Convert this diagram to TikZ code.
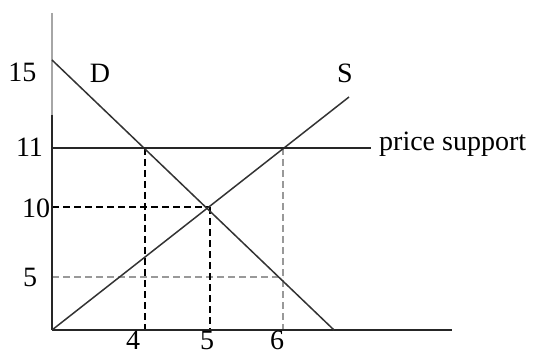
\documentclass[tikz,border=0pt]{standalone}
\usepackage{fontspec}
\setmainfont{Liberation Serif}
\begin{document}
\begin{tikzpicture}[x=1pt,y=-1pt,
  lbl/.style={inner sep=0pt,font=\fontsize{28}{30}\selectfont},
  axis/.style={line width=1.6pt,black!85},
  curve/.style={line width=1.5pt,black!80},
  dashk/.style={line width=1.4pt,black,dash pattern=on 7pt off 4pt},
  dashg/.style={line width=1.4pt,black!40,dash pattern=on 7pt off 4pt}]
\useasboundingbox (0,0) rectangle (534,352);
% coordinates
\coordinate (Ytop) at (52,13);
\coordinate (Ymid) at (52,115);
\coordinate (O) at (52,330);
\coordinate (Xend) at (452,330);
\coordinate (D0) at (52,60);
\coordinate (D1) at (334,330);
\coordinate (S1) at (349,97);
\coordinate (P0) at (52,148);
\coordinate (P1) at (371,148);
\coordinate (A) at (145,148);
\coordinate (A0) at (145,330);
\coordinate (E) at (210,207);
\coordinate (E0) at (210,330);
\coordinate (EY) at (52,207);
\coordinate (B) at (283,148);
\coordinate (B0) at (283,330);
\coordinate (C) at (283,277);
\coordinate (CY) at (52,277);
% dashed lines
\draw[dashg] (CY) -- (C);
\draw[dashg] (B) -- (B0);
\draw[dashk] (EY) -- (E);
\draw[dashk] (E) -- (E0);
\draw[dashk] (A) -- (A0);
% axes
\draw[axis,black!35] (Ytop) -- (Ymid);
\draw[axis] (Ymid) -- (O);
\draw[axis] (O) -- (Xend);
% curves
\draw[curve] (D0) -- (D1);
\draw[curve] (O) -- (S1);
\draw[axis] (P0) -- (P1);
% labels
\node[lbl] (l15) at (22.5,72) {15};
\node[lbl] (l11) at (29.5,147) {11};
\node[lbl] (l10) at (36,208) {10};
\node[lbl] (l5) at (30,277) {5};
\node[lbl] (x4) at (133,340.5) {4};
\node[lbl] (x5) at (207,340.5) {5};
\node[lbl] (x6) at (277,340.5) {6};
\node[lbl] (lD) at (100,73) {D};
\node[lbl] (lS) at (345,73) {S};
\node[lbl,anchor=base west] (lps) at (379,151) {price support};
\end{tikzpicture}
\end{document}
